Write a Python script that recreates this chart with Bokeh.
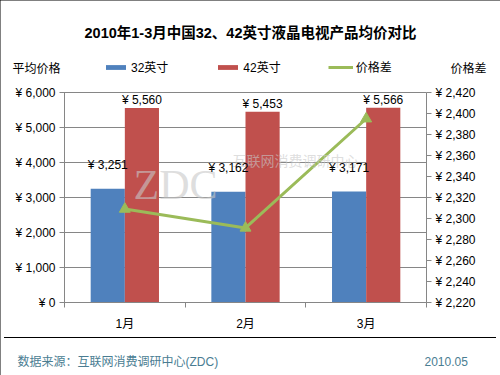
from bokeh.plotting import figure
from bokeh.models import (ColumnDataSource, Range1d, LinearAxis,
                          FixedTicker, CustomJSTickFormatter, LabelSet, Label,
                          Legend, LegendItem)
from bokeh.transform import dodge
from bokeh.core.properties import value
from bokeh.embed import file_html
from bokeh.resources import INLINE

# ---- data ----
months = ["1月", "2月", "3月"]
price_32 = [3251, 3162, 3171]
price_42 = [5560, 5453, 5566]
price_diff = [2309, 2291, 2395]
left_ticks = [0, 1000, 2000, 3000, 4000, 5000, 6000]
right_ticks = [2220, 2240, 2260, 2280, 2300, 2320, 2340, 2360, 2380, 2400, 2420]

title_text = "2010年1-3月中国32、42英寸液晶电视产品均价对比"
series_names = ["32英寸", "42英寸", "价格差"]
left_title = "平均价格"
right_title = "价格差"
source_text = "数据来源：互联网消费调研中心(ZDC)"
date_text = "2010.05"
watermark_a = "ZDC"
watermark_b = "互联网消费调研中心"

FONT = "Liberation Sans, Arial, 'Noto Sans CJK SC', sans-serif"
BLUE = "#4f81bd"
RED = "#c0504d"
GREEN = "#9bbb59"
GRAY = "#868686"
FOOT = "#4a7d92"

# geometry (canvas px): plot area of the chart inside the canvas
W, H = 500, 375
PL, PR, PT, PB = 64, 426, 92, 302


def sx(cx):
    return cx


def sy(cy):
    return H - cy


def stretched(lo, hi, a, b, total):
    # data range covering the whole canvas so that lo..hi maps to pixels a..b
    k = (hi - lo) / (b - a)
    return Range1d(lo - a * k, hi + (total - b) * k)


def stretched_y(lo, hi):
    k = (hi - lo) / (PB - PT)
    return Range1d(lo - (H - PB) * k, hi + PT * k)


centers = [i + 0.5 for i in range(len(months))]
src = ColumnDataSource(dict(
    x=centers, p32=price_32, p42=price_42, d=price_diff,
    l32=[f"¥ {v:,}" for v in price_32],
    l42=[f"¥ {v:,}" for v in price_42],
))

p = figure(width=W, height=H, output_backend="svg", toolbar_location=None,
           x_range=stretched(0, len(months), PL, PR, W),
           y_range=stretched_y(left_ticks[0], left_ticks[-1]),
           x_axis_type=None, y_axis_type=None,
           min_border=0, min_border_left=0, min_border_right=0, min_border_top=0, min_border_bottom=0)
p.outline_line_color = None
p.background_fill_color = "white"
p.border_fill_color = "white"
p.extra_y_ranges = {"diff": stretched_y(right_ticks[0], right_ticks[-1])}
p.stylesheets = [
    ":host { position: relative; outline: 1px solid #000; outline-offset: -1px; }",
    ":host::after { content: ''; position: absolute; left: 4px; top: 337px; width: 492px; "
    "height: 1px; background: #000; pointer-events: none; z-index: 100; }",
]

yen = CustomJSTickFormatter(code="return '¥ ' + tick.toLocaleString('en-US');")


def style_axis(ax):
    ax.axis_line_color = GRAY
    ax.major_tick_line_color = GRAY
    ax.major_tick_in = 0
    ax.major_tick_out = 5
    ax.minor_tick_line_color = None
    ax.major_label_text_font = FONT
    ax.major_label_text_font_size = "12px"
    ax.major_label_text_color = "black"
    ax.major_label_standoff = 4


# left value axis; its inward ticks form the horizontal grid lines of the plot area
ly = LinearAxis(ticker=FixedTicker(ticks=left_ticks), formatter=yen,
                bounds=(left_ticks[0], left_ticks[-1]), fixed_location=0)
style_axis(ly)
ly.major_tick_in = PR - PL
ly.level = "underlay"
p.add_layout(ly, "left")

ry = LinearAxis(y_range_name="diff", ticker=FixedTicker(ticks=right_ticks), formatter=yen,
                bounds=(right_ticks[0], right_ticks[-1]), fixed_location=len(months))
style_axis(ry)
p.add_layout(ry, "right")

# bottom category axis at value 0: labels at centres, ticks at category boundaries
bx = LinearAxis(ticker=FixedTicker(ticks=centers, minor_ticks=list(range(len(months) + 1))),
                fixed_location=left_ticks[0], bounds=(0, len(months)))
bx.major_label_overrides = {c: m for c, m in zip(centers, months)}
bx.axis_line_color = GRAY
bx.major_tick_line_color = None
bx.minor_tick_line_color = GRAY
bx.minor_tick_in = 0
bx.minor_tick_out = 5
bx.major_label_text_font = FONT
bx.major_label_text_font_size = "12px"
bx.major_label_text_color = "black"
bx.major_label_standoff = 8
p.add_layout(bx, "below")

bw = 0.283
r32 = p.vbar(x=dodge("x", -bw / 2), top="p32", width=bw, source=src,
             fill_color=BLUE, line_color=None)
r42 = p.vbar(x=dodge("x", bw / 2), top="p42", width=bw, source=src,
             fill_color=RED, line_color=None)
rl = p.line(x="x", y="d", source=src, y_range_name="diff", line_color=GREEN, line_width=3)
rs = p.scatter(x="x", y="d", source=src, y_range_name="diff", marker="triangle", size=11,
               fill_color=GREEN, line_color=GREEN)

# watermark (semi-transparent, over the bars)
p.add_layout(Label(x=sx(133), y=sy(184), x_units="screen", y_units="screen", text=watermark_a,
                   text_font="Liberation Serif", text_font_size="42px", text_baseline="alphabetic",
                   text_color="#c8c8c8", text_alpha=0.6))
p.add_layout(Label(x=sx(232), y=sy(160), x_units="screen", y_units="screen", text=watermark_b,
                   text_font=FONT, text_font_size="14px", text_baseline="middle",
                   text_color="#c8c8c8", text_alpha=0.6))

p.add_layout(LabelSet(x=dodge("x", -bw / 2), y="p32", text="l32", source=src,
                      text_align="center", text_baseline="middle", y_offset=24,
                      text_font=value(FONT), text_font_size="12px", text_color="black"))
p.add_layout(LabelSet(x=dodge("x", bw / 2), y="p42", text="l42", source=src,
                      text_align="center", text_baseline="middle", y_offset=8,
                      text_font=value(FONT), text_font_size="12px", text_color="black"))

legend = Legend(items=[LegendItem(label=series_names[0], renderers=[r32]),
                       LegendItem(label=series_names[1], renderers=[r42]),
                       LegendItem(label=series_names[2], renderers=[rl, rs])],
                orientation="horizontal", location=(sx(103), sy(75)),
                glyph_width=25, glyph_height=6, label_standoff=3, spacing=47,
                padding=0, margin=0, border_line_color=None, background_fill_alpha=0,
                label_text_font=FONT, label_text_font_size="12px", label_text_color="black")
p.add_layout(legend, "center")

# texts
p.add_layout(Label(x=sx(250), y=sy(32), x_units="screen", y_units="screen", text=title_text,
                   text_align="center", text_baseline="middle", text_font=FONT,
                   text_font_size="14.5px", text_font_style="bold", text_color="black"))
p.add_layout(Label(x=sx(12), y=sy(68), x_units="screen", y_units="screen", text=left_title,
                   text_baseline="middle", text_font=FONT, text_font_size="12px", text_color="black"))
p.add_layout(Label(x=sx(450), y=sy(68), x_units="screen", y_units="screen", text=right_title,
                   text_baseline="middle", text_font=FONT, text_font_size="12px", text_color="black"))
p.add_layout(Label(x=sx(17), y=sy(361), x_units="screen", y_units="screen", text=source_text,
                   text_baseline="middle", text_font=FONT, text_font_size="12px", text_color=FOOT))
p.add_layout(Label(x=sx(424), y=sy(361), x_units="screen", y_units="screen", text=date_text,
                   text_baseline="middle", text_font=FONT, text_font_size="12px", text_color=FOOT))

open("out.html", "w").write(file_html(p, INLINE))
